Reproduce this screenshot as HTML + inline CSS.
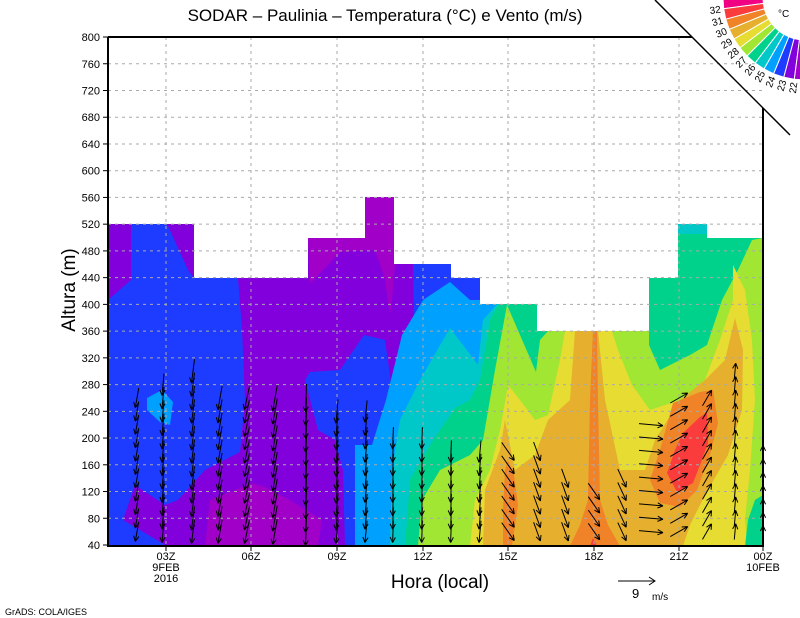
<!DOCTYPE html>
<html><head><meta charset="utf-8"><style>
html,body{margin:0;padding:0;background:#fff;width:800px;height:618px;overflow:hidden}
svg text{font-family:"Liberation Sans",sans-serif;fill:#000}
</style></head><body>
<svg id="s" width="800" height="618" viewBox="0 0 800 618" xmlns="http://www.w3.org/2000/svg">
<rect x="108" y="197" width="655" height="349" fill="#1e3cff"/>
<polygon fill="#8200dc" points="108,224 131,224 131,280 108,300"/>
<polygon fill="#8200dc" points="167,224 194,224 194,278 188,270"/>
<polygon fill="#8200dc" points="238,278 308,278 308,238 365,238 365,197 394,197 394,264 413,264 414,320 393,397 385,340 364,335 340,370 310,372 305,380 318,430 335,440 343,470 345,546 167,546 123,520 135,485 165,505 178,500 205,470 240,452 245,400 242,330"/>
<polygon fill="#a000c8" points="308,238 365,238 365,197 394,197 395,264 392,300 390,315 385,280 375,250 340,252 310,284"/>
<polygon fill="#a000c8" points="205,546 210,500 240,488 252,483 265,487 290,500 322,520 318,546"/>
<polygon fill="#00a0ff" points="147,398 162,390 173,402 170,425 160,422 147,410"/>
<polygon fill="#00a0ff" points="355,546 355,445 372,445 386,400 402,335 423,300 450,282 470,300 480,300 480,197 763,197 763,546"/>
<polygon fill="#00c8c8" points="390,546 392,470 400,420 420,380 450,328 478,365 483,320 497,304 763,197 763,546"/>
<polygon fill="#00c8c8" points="497,304 763,197 763,304"/>
<polygon fill="#00d28c" points="405,546 410,480 430,445 455,408 470,400 480,380 490,320 498,305 505,304 505,197 763,197 763,546"/>
<polygon fill="#a0e632" points="418,546 422,500 440,470 470,455 483,440 495,370 507,305 520,335 536,372 540,340 548,331 649,331 649,345 660,370 690,355 707,345 722,300 738,270 752,240 763,238 763,546"/>
<polygon fill="#e6dc32" points="470,546 475,500 490,470 500,430 508,385 520,400 535,420 548,415 560,360 565,331 612,331 618,350 632,385 650,410 680,400 705,380 720,340 733,300 733,265 745,290 752,340 755,400 750,470 745,520 747,546"/>
<polygon fill="#e6af2d" points="483,546 485,490 500,450 505,420 515,470 535,455 548,420 570,400 575,331 598,331 605,400 620,470 645,470 655,440 680,400 705,380 725,360 735,318 743,350 742,410 728,455 705,495 690,525 683,546"/>
<polygon fill="#f08228" points="570,546 580,525 588,500 590,400 593,331 597,331 598,400 600,500 608,525 620,546"/>
<polygon fill="#f08228" points="503,546 503,510 505,470 508,460 514,475 518,505 512,546"/>
<polygon fill="#f08228" points="650,480 660,450 673,403 700,392 713,390 718,423 710,455 697,490 680,507 660,503"/>
<polygon fill="#fa3c3c" points="667,473 675,450 683,433 700,417 707,413 708,443 700,465 693,483 677,492"/>
<polygon fill="#fa3c3c" points="590,546 593,538 597,546"/>
<polygon fill="#00d28c" points="745,546 748,520 755,500 763,495 763,546"/>
<polygon fill="#00c8c8" points="678,224 707,224 707,234 678,234"/>
<polygon fill="#fff" points="108,30 763,30 763,238 707,238 707,224 678,224 678,278 649,278 649,331 537,331 537,304 480,304 480,278 451,278 451,264 394,264 394,197 365,197 365,238 308,238 308,278 194,278 194,224 108,224"/>
<g id="grid" stroke="#aaa" stroke-width="1" stroke-dasharray="3,4"></g>
<g id="arr" stroke="#000" stroke-width="1" fill="none"></g>
<path d="M108,37 L692,37 M108,37 L108,546 L763,546 L763,108" stroke="#000" stroke-width="2" fill="none"/>
<line x1="655" y1="0" x2="790" y2="135" stroke="#000" stroke-width="1.5"/>
<g id="ticks" stroke="#000" stroke-width="1"></g>
<g id="lab" font-size="11"></g>
<g id="leg"></g>
<text x="385" y="21" font-size="17" text-anchor="middle">SODAR – Paulinia – Temperatura (°C) e Vento (m/s)</text>
<text x="440" y="588" font-size="19" text-anchor="middle">Hora (local)</text>
<text transform="translate(75,290) rotate(-90)" font-size="19" text-anchor="middle">Altura (m)</text>
<text x="5" y="615" font-size="9">GrADS: COLA/IGES</text>
<line x1="618" y1="581" x2="655" y2="581" stroke="#000"/>
<path d="M649,577 L655,581 L649,585" stroke="#000" fill="none"/>
<text x="632" y="598" font-size="13">9</text>
<text x="652" y="600" font-size="10">m/s</text>
<text x="778" y="17" font-size="10">°C</text>
</svg>
<script>
const NS="http://www.w3.org/2000/svg";
function el(p,t,a,txt){const e=document.createElementNS(NS,t);for(const k in a)e.setAttribute(k,a[k]);if(txt!==undefined)e.textContent=txt;document.getElementById(p).appendChild(e);return e;}
const Y=v=>545-(v-40)*0.6684;
const xt=[166,251,337,423,508,594,679,763],xl=["03Z","06Z","09Z","12Z","15Z","18Z","21Z","00Z"];
for(let v=80;v<=760;v+=40)el("grid","line",{x1:108,x2:763,y1:Y(v),y2:Y(v)});
xt.slice(0,7).forEach(x=>el("grid","line",{x1:x,x2:x,y1:37,y2:546}));
for(let v=40;v<=800;v+=40){el("ticks","line",{x1:103,x2:108,y1:Y(v),y2:Y(v)});el("lab","text",{x:100,y:Y(v)+4,"text-anchor":"end"},v);}
xt.forEach((x,i)=>{el("ticks","line",{x1:x,x2:x,y1:546,y2:551});el("lab","text",{x:x,y:560,"text-anchor":"middle"},xl[i]);});
el("lab","text",{x:166,y:571,"text-anchor":"middle"},"9FEB");el("lab","text",{x:166,y:582,"text-anchor":"middle"},"2016");
el("lab","text",{x:763,y:571,"text-anchor":"middle"},"10FEB");
const cols=[[137,395,100,20],[163,375,95,22],[193,360,97,24],[220,385,100,24],[247,385,102,24],[275,385,100,26],[306,385,92,28],[337,410,95,24],[366,410,96,22],[393,435,92,22],[422,435,92,22],[451,450,92,22],[480,450,95,22],[508,450,55,22],[537,450,70,20],[565,475,70,20],[594,480,55,20],[622,475,65,20],[651,420,5,24],[679,395,-30,20],[707,390,-60,18],[735,360,-85,16],[763,440,-90,12]];
cols.forEach(([x,top,a,L])=>{const r=a*Math.PI/180,dx=Math.cos(r)*L,dy=Math.sin(r)*L;
 for(let v=40;Y(v)>=top;v+=20){const y=Y(v);if(y>540)continue;const x1=x-dx/2,y1=y-dy/2,x2=x+dx/2,y2=y+dy/2;
  let d=`M${x1.toFixed(1)},${y1.toFixed(1)}L${x2.toFixed(1)},${y2.toFixed(1)}`;
  const h=6,b=0.45;[1,-1].forEach(s=>{const rr=r+Math.PI+s*b;d+=`M${x2.toFixed(1)},${y2.toFixed(1)}l${(Math.cos(rr)*h).toFixed(1)},${(Math.sin(rr)*h).toFixed(1)}`;});
  el("arr","path",{d});}});
const cx=805,cy=-2,ri=42,ro=82,cs=["#f00082","#fa3c3c","#f08228","#e6af2d","#e6dc32","#a0e632","#00d28c","#00c8c8","#00a0ff","#1e3cff","#8200dc","#a000c8"];
const P=(r,a)=>[cx+r*Math.cos(a),cy+r*Math.sin(a)];
cs.forEach((c,i)=>{const a1=(180-i*7.5)*Math.PI/180,a2=(180-(i+1)*7.5)*Math.PI/180;
 const p=[P(ri,a1),P(ro,a1),P(ro,a2),P(ri,a2)];
 el("leg","polygon",{points:p.map(q=>q.map(n=>n.toFixed(1)).join(",")).join(" "),fill:c,stroke:"#fff","stroke-width":1});});
for(let i=1;i<=11;i++){const a=(180-i*7.5)*Math.PI/180;const [px,py]=P(ro+3,a);const deg=180-i*7.5;
 el("leg","text",{transform:`translate(${px.toFixed(1)},${py.toFixed(1)}) rotate(${(deg-180).toFixed(1)})`,"font-size":10,"text-anchor":"end",dy:"0.35em"},33-i);}
</script>
</body></html>
